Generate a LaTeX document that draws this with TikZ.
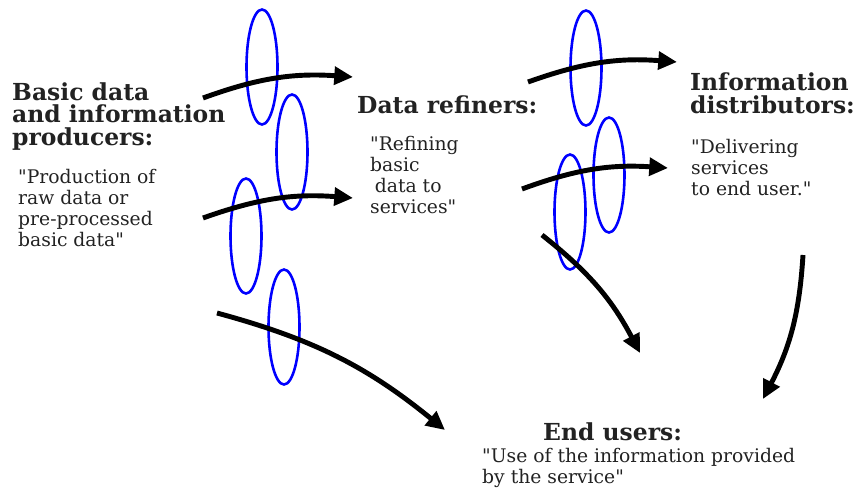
\documentclass[tikz,border=0pt]{standalone}
\usepackage{fontspec}
\setmainfont{DejaVu Serif}
\usetikzlibrary{
    arrows.meta,
    shapes.geometric
}
\definecolor{ringblue}{RGB}{0,0,255}
\definecolor{inkgray}{RGB}{34,34,34}

\begin{document}
\begin{tikzpicture}[x=0.03cm, y=-0.03cm,
        title/.style={anchor=base west, inner sep=0pt, align=left, text=inkgray,
            font=\fontsize{20}{19.1}\selectfont\bfseries},
        quote/.style={anchor=base west, inner sep=0pt, align=left, text=inkgray,
            font=\fontsize{16}{17.85}\selectfont},
        ring/.style={draw=ringblue, ellipse, line width=2.2pt, inner sep=0pt,
            minimum width=0.93cm, minimum height=3.45cm},
        flow/.style={line width=4.2pt, -{Triangle[length=16pt,width=15pt]}, bend left=12}]

        \useasboundingbox (0,0) rectangle (859,495);

        \node[title] (producers) at (12,145) {Basic data\\and information\\producers:};
        \node[quote] (prodtext) at (18,246) {\textquotedbl Production of\\raw data or\\pre-processed\\basic data\textquotedbl};
        \node[title] (refiners) at (357,113) {Data refiners:};
        \node[quote] (refinetext) at (370,213) {\textquotedbl Refining\\basic\\\hspace*{4pt}data to\\services\textquotedbl};
        \node[title] (distributors) at (690,113) {Information\\distributors:};
        \node[quote] (disttext) at (691,195) {\textquotedbl Delivering\\services\\to end user.\textquotedbl};
        \node[title] (endusers) at (543,440) {End users:};
        \node[quote] (usetext) at (482,483) {\textquotedbl Use of the information provided\\by the service\textquotedbl};

        \node[ring] (r1) at (262,67) {};
        \node[ring] (r2) at (292,152) {};
        \node[ring] (r3) at (246,236) {};
        \node[ring] (r4) at (284,327) {};
        \node[ring] (r5) at (586,68) {};
        \node[ring] (r6) at (609,175) {};
        \node[ring] (r7) at (570,212) {};

        \coordinate (a1) at (203,98);  \coordinate (b1) at (353,77);
        \coordinate (a2) at (203,218); \coordinate (b2) at (353,198);
        \coordinate (a3) at (217,313); \coordinate (b3) at (445,430);
        \coordinate (a4) at (528,82);  \coordinate (b4) at (677,62);
        \coordinate (a5) at (522,189); \coordinate (b5) at (668,168);
        \coordinate (a6) at (542,235); \coordinate (b6) at (640,353);
        \coordinate (a7) at (803,255); \coordinate (b7) at (763,399);

        \draw[flow] (a1) to (b1);
        \draw[flow] (a2) to (b2);
        \draw[flow] (a3) to (b3);
        \draw[flow] (a4) to (b4);
        \draw[flow] (a5) to (b5);
        \draw[flow] (a6) to (b6);
        \draw[flow] (a7) to (b7);
    \end{tikzpicture}
\end{document}
